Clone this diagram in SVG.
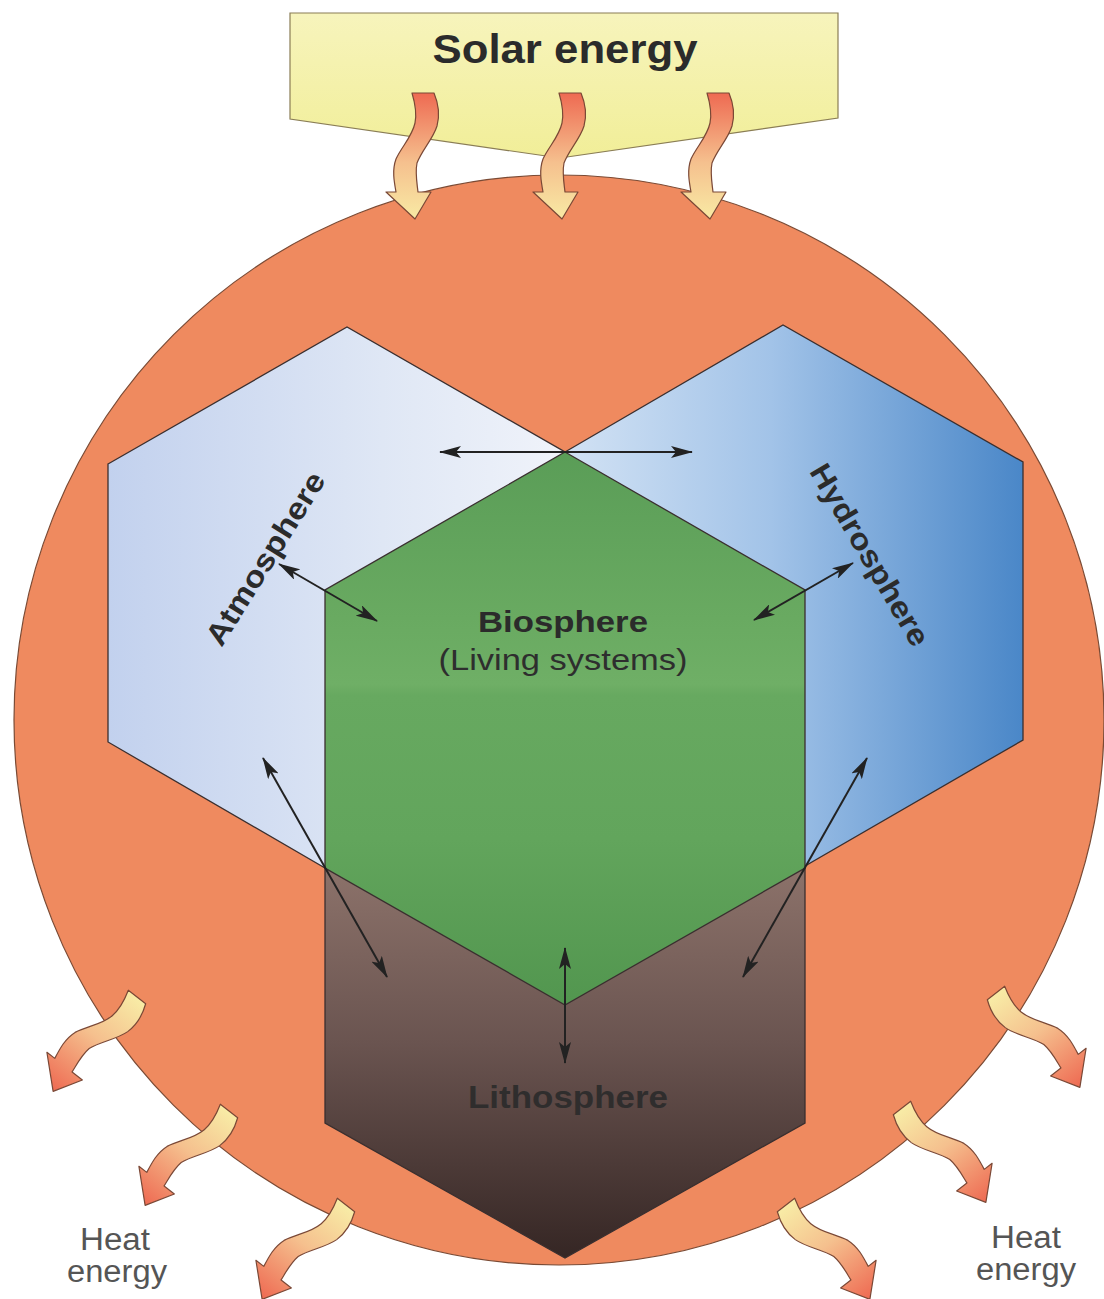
<svg xmlns="http://www.w3.org/2000/svg" xmlns:xlink="http://www.w3.org/1999/xlink" width="1104" height="1299" viewBox="0 0 1104 1299">
<style>
.hex{stroke:#3a2f2f;stroke-width:1.3;stroke-linejoin:miter}
.lbl{font-family:"Liberation Sans",Arial,Helvetica,sans-serif;font-weight:bold;fill:#2b2b2b}
.reg{font-family:"Liberation Sans",Arial,Helvetica,sans-serif;fill:#2e2e2e}
.heat{font-family:"Liberation Sans",Arial,Helvetica,sans-serif;fill:#555;font-size:31px}
.wavy{stroke:#7a4836;stroke-width:1.2;stroke-linejoin:round}
.conn{stroke:#222;stroke-width:2;fill:none;marker-start:url(#ah);marker-end:url(#ah)}
</style>
<defs>
<linearGradient id="solarBox" x1="0" y1="0" x2="0" y2="1">
<stop offset="0" stop-color="#f7f4bc"/>
<stop offset="1" stop-color="#f1ee98"/>
</linearGradient>
<linearGradient id="solarGrad" x1="0" y1="0" x2="0" y2="1">
<stop offset="0" stop-color="#ee6a52"/>
<stop offset="0.55" stop-color="#f5c08e"/>
<stop offset="1" stop-color="#f8eaa4"/>
</linearGradient>
<linearGradient id="heatGrad" x1="0" y1="0" x2="0" y2="1">
<stop offset="0" stop-color="#f8eca6"/>
<stop offset="0.45" stop-color="#f5c08e"/>
<stop offset="1" stop-color="#ee6a52"/>
</linearGradient>
<linearGradient id="atmGrad" gradientUnits="userSpaceOnUse" x1="108" y1="0" x2="565" y2="0">
<stop offset="0" stop-color="#c2d1ee"/>
<stop offset="0.6" stop-color="#dfe7f5"/>
<stop offset="1" stop-color="#f0f3fa"/>
</linearGradient>
<linearGradient id="hydGrad" gradientUnits="userSpaceOnUse" x1="565" y1="0" x2="1023" y2="0">
<stop offset="0" stop-color="#d2e2f4"/>
<stop offset="0.45" stop-color="#a2c3e8"/>
<stop offset="1" stop-color="#4a87c8"/>
</linearGradient>
<linearGradient id="bioGrad" gradientUnits="userSpaceOnUse" x1="0" y1="452" x2="0" y2="1005">
<stop offset="0" stop-color="#5a9d57"/>
<stop offset="0.3" stop-color="#69aa61"/>
<stop offset="0.42" stop-color="#6faf66"/>
<stop offset="0.44" stop-color="#67a960"/>
<stop offset="0.7" stop-color="#62a55c"/>
<stop offset="1" stop-color="#52964f"/>
</linearGradient>
<linearGradient id="lithGrad" gradientUnits="userSpaceOnUse" x1="0" y1="868" x2="0" y2="1258">
<stop offset="0" stop-color="#8c726a"/>
<stop offset="0.45" stop-color="#6a5450"/>
<stop offset="1" stop-color="#352624"/>
</linearGradient>
<marker id="ah" markerUnits="userSpaceOnUse" markerWidth="22" markerHeight="12" viewBox="0 0 22 12" refX="21" refY="6" orient="auto-start-reverse">
<path d="M0,0 L22,6 L0,12 L5,6 Z" fill="#222"/>
</marker>
<path id="wavy" d="M -11,0 L 11,0 C 16,12 17,22 14,33 C 10,46 -1,57 -6,70 C -8,80 -6,90 -5,99 L 8,99 L -8,126 L -37,99 L -27,99 C -29,88 -31,77 -27,66 C -21,53 -11,44 -8,30 C -6,20 -8,10 -11,0 Z"/>
</defs>

<rect x="0" y="0" width="1104" height="1299" fill="#ffffff"/>

<g id="earth">
<circle cx="559" cy="720" r="545" fill="#ef8a5f" stroke="#7a4a34" stroke-width="1.2"/>
</g>

<g id="solar">
<path d="M290,13 L838,13 L838,118 L560,158 L290,119 Z" fill="url(#solarBox)" stroke="#8a7d55" stroke-width="1.2"/>
<text class="lbl" x="565" y="63" font-size="41" text-anchor="middle" textLength="265" lengthAdjust="spacingAndGlyphs" fill="#333">Solar energy</text>
</g>

<g id="lithosphere">
<polygon class="hex" points="325,868 565,730 805,868 805,1123 565,1258 325,1123" fill="url(#lithGrad)"/>
<text class="lbl" x="568" y="1108" font-size="31" text-anchor="middle" textLength="200" lengthAdjust="spacingAndGlyphs" fill="#2a2322" opacity="0.9">Lithosphere</text>
</g>

<g id="atmosphere">
<polygon class="hex" points="108,464 347,327 565,452 565,700 325,868 108,742" fill="url(#atmGrad)"/>
<text class="lbl" font-size="30" text-anchor="middle" textLength="198" lengthAdjust="spacingAndGlyphs" transform="translate(274,564) rotate(-58)">Atmosphere</text>
</g>

<g id="hydrosphere">
<polygon class="hex" points="565,452 783,325 1023,462 1023,740 805,866 565,700" fill="url(#hydGrad)"/>
<text class="lbl" font-size="30" text-anchor="middle" textLength="206" lengthAdjust="spacingAndGlyphs" transform="translate(861,560) rotate(59.5)">Hydrosphere</text>
</g>

<g id="biosphere">
<polygon class="hex" points="565,452 805,590 805,868 565,1005 325,868 325,590" fill="url(#bioGrad)"/>
<text class="lbl" x="563" y="632" font-size="30" text-anchor="middle" textLength="170" lengthAdjust="spacingAndGlyphs">Biosphere</text>
<text class="reg" x="563" y="670" font-size="30" text-anchor="middle" textLength="249" lengthAdjust="spacingAndGlyphs">(Living systems)</text>
</g>

<g id="connectors">
<line class="conn" x1="440" y1="452" x2="692" y2="452"/>
<line class="conn" x1="279" y1="564" x2="377" y2="621"/>
<line class="conn" x1="853" y1="563" x2="754" y2="620"/>
<line class="conn" x1="263" y1="758" x2="387" y2="977"/>
<line class="conn" x1="867" y1="758" x2="743" y2="977"/>
<line class="conn" x1="565" y1="948" x2="565" y2="1063"/>
</g>

<g id="solar-arrows">
<use href="#wavy" xlink:href="#wavy" class="wavy" fill="url(#solarGrad)" transform="translate(423,93)"/>
<use href="#wavy" xlink:href="#wavy" class="wavy" fill="url(#solarGrad)" transform="translate(570,93)"/>
<use href="#wavy" xlink:href="#wavy" class="wavy" fill="url(#solarGrad)" transform="translate(718,93)"/>
</g>

<g id="heat-arrows">
<use href="#wavy" xlink:href="#wavy" class="wavy" fill="url(#heatGrad)" transform="translate(137,997) rotate(38)"/>
<use href="#wavy" xlink:href="#wavy" class="wavy" fill="url(#heatGrad)" transform="translate(229,1111) rotate(38)"/>
<use href="#wavy" xlink:href="#wavy" class="wavy" fill="url(#heatGrad)" transform="translate(346,1205) rotate(38)"/>
<use href="#wavy" xlink:href="#wavy" class="wavy" fill="url(#heatGrad)" transform="translate(996,993) rotate(-38) scale(-1,1)"/>
<use href="#wavy" xlink:href="#wavy" class="wavy" fill="url(#heatGrad)" transform="translate(902,1108) rotate(-38) scale(-1,1)"/>
<use href="#wavy" xlink:href="#wavy" class="wavy" fill="url(#heatGrad)" transform="translate(786,1205) rotate(-38) scale(-1,1)"/>
</g>

<g id="heat-labels">
<text class="heat" x="115" y="1250" text-anchor="middle" textLength="70" lengthAdjust="spacingAndGlyphs">Heat</text>
<text class="heat" x="117" y="1282" text-anchor="middle" textLength="100" lengthAdjust="spacingAndGlyphs">energy</text>
<text class="heat" x="1026" y="1248" text-anchor="middle" textLength="70" lengthAdjust="spacingAndGlyphs">Heat</text>
<text class="heat" x="1026" y="1280" text-anchor="middle" textLength="100" lengthAdjust="spacingAndGlyphs">energy</text>
</g>
</svg>
